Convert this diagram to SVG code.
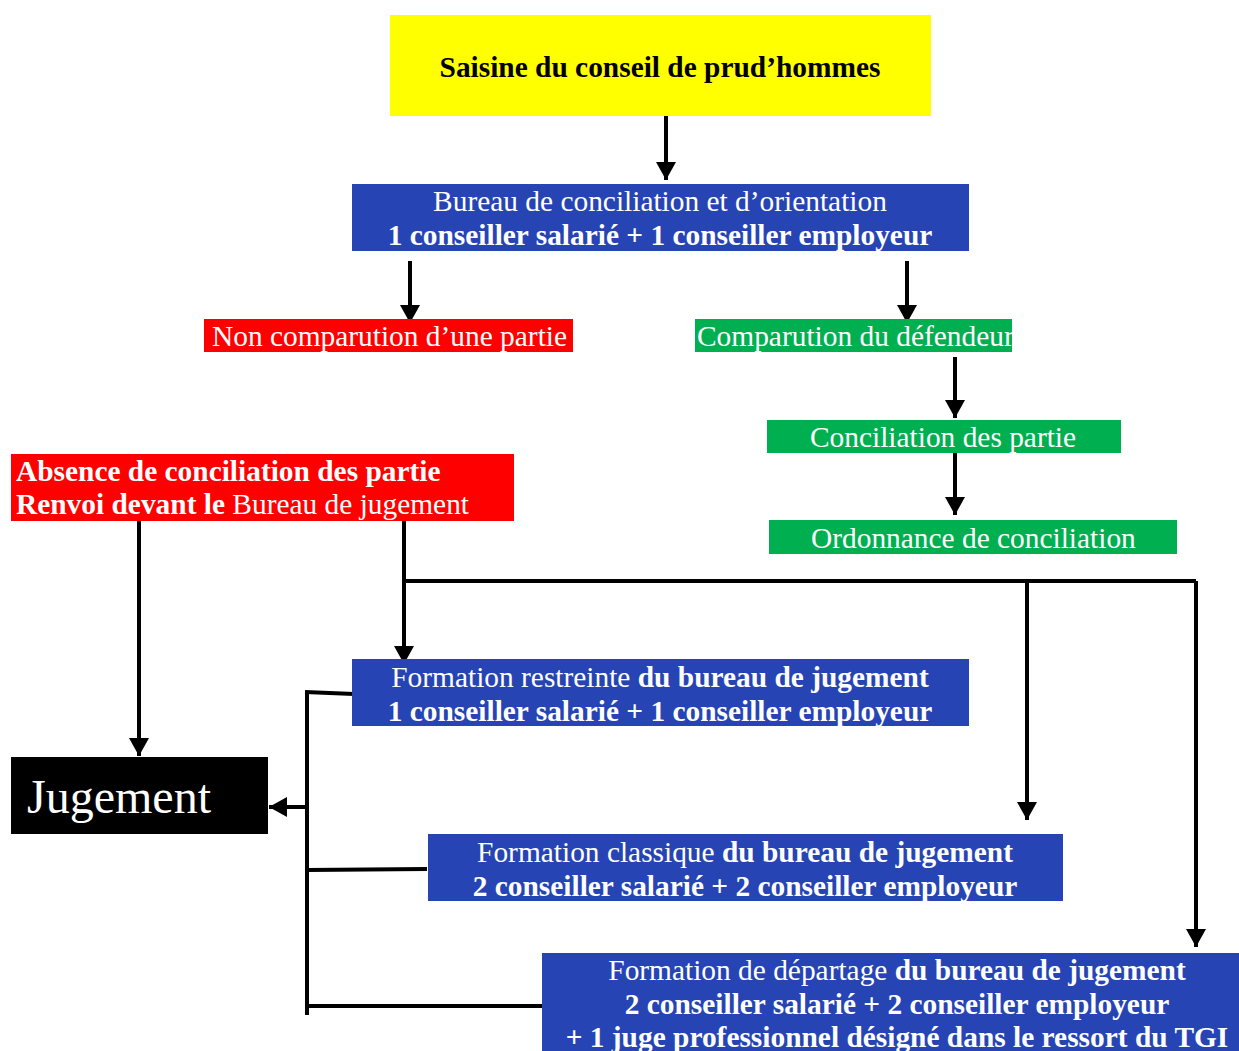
<svg xmlns="http://www.w3.org/2000/svg" width="1239" height="1051" viewBox="0 0 1239 1051">
<defs>
<marker id="ah" markerWidth="5" markerHeight="5" refX="4.5" refY="2.5" orient="auto" markerUnits="strokeWidth">
<path d="M0,0 L4.5,2.5 L0,5 Z" fill="#000"/>
</marker>
<style>
text{font-family:"Liberation Serif","Times New Roman",serif;}
.t{font-size:29.4px;fill:#fff;}
.c{text-anchor:middle;}
.b{font-weight:bold;}
.blue{fill:#2644b4;}
.red{fill:#ff0000;}
.green{fill:#00b050;}
.ln{stroke:#000;stroke-width:4;fill:none;}
.ar{stroke:#000;stroke-width:4;fill:none;marker-end:url(#ah);}
</style>
</defs>
<rect width="1239" height="1051" fill="#fff"/>
<g id="connectors">
<line class="ar" x1="666" y1="116" x2="666" y2="180"/>
<line class="ar" x1="410" y1="261" x2="410" y2="323"/>
<line class="ar" x1="907" y1="261" x2="907" y2="323"/>
<line class="ar" x1="955" y1="357" x2="955" y2="418"/>
<line class="ar" x1="955" y1="453" x2="955" y2="515"/>
<line class="ar" x1="139" y1="518" x2="139" y2="756"/>
<line class="ar" x1="404" y1="521" x2="404" y2="664"/>
<polyline class="ln" points="404,581 1196,581"/>
<line class="ar" x1="1027" y1="581" x2="1027" y2="820"/>
<line class="ar" x1="1196" y1="581" x2="1196" y2="947"/>
<line class="ln" x1="307" y1="691" x2="307" y2="1015"/>
<line class="ln" x1="305" y1="692" x2="354" y2="694"/>
<line class="ln" x1="307" y1="870" x2="427" y2="869"/>
<line class="ln" x1="307" y1="1006" x2="547" y2="1006"/>
<line class="ar" x1="307" y1="807" x2="269" y2="807"/>
</g>
<g id="saisine">
<rect x="390" y="15" width="541" height="101" fill="#ffff00"/>
<text class="c b" x="660" y="77" font-size="29.4" fill="#000">Saisine du conseil de prud’hommes</text>
</g>
<g id="bureau-conciliation">
<rect class="blue" x="352" y="184" width="617" height="67"/>
<text class="t c" x="660" y="211">Bureau de conciliation et d’orientation</text>
<text class="t c b" x="660" y="245">1 conseiller salarié + 1 conseiller employeur</text>
</g>
<g id="non-comparution">
<rect class="red" x="204" y="319" width="369" height="33"/>
<text class="t" x="212" y="346">Non comparution d’une partie</text>
</g>
<g id="comparution">
<rect class="green" x="695" y="319" width="317" height="33"/>
<text class="t" x="697" y="346">Comparution du défendeur</text>
</g>
<g id="conciliation">
<rect class="green" x="767" y="420" width="354" height="33"/>
<text class="t" x="810" y="447">Conciliation des partie</text>
</g>
<g id="ordonnance">
<rect class="green" x="769" y="520" width="408" height="34"/>
<text class="t" x="811" y="548">Ordonnance de conciliation</text>
</g>
<g id="absence">
<rect class="red" x="11" y="454" width="503" height="67"/>
<text class="t b" x="16" y="481">Absence de conciliation des partie</text>
<text class="t" x="16" y="514"><tspan class="b">Renvoi devant le </tspan>Bureau de jugement</text>
</g>
<g id="jugement">
<rect x="11" y="757" width="257" height="77" fill="#000"/>
<text x="27" y="813" font-size="48" fill="#fff">Jugement</text>
</g>
<g id="formation-restreinte">
<rect class="blue" x="352" y="659" width="617" height="67"/>
<text class="t c" x="660" y="687">Formation restreinte <tspan class="b">du bureau de jugement</tspan></text>
<text class="t c b" x="660" y="721">1 conseiller salarié + 1 conseiller employeur</text>
</g>
<g id="formation-classique">
<rect class="blue" x="428" y="834" width="635" height="67"/>
<text class="t c" x="745" y="862">Formation classique <tspan class="b">du bureau de jugement</tspan></text>
<text class="t c b" x="745" y="896">2 conseiller salarié + 2 conseiller employeur</text>
</g>
<g id="formation-departage">
<rect class="blue" x="542" y="953" width="697" height="98"/>
<text class="t c" x="897" y="980">Formation de départage <tspan class="b">du bureau de jugement</tspan></text>
<text class="t c b" x="897" y="1014">2 conseiller salarié + 2 conseiller employeur</text>
<text class="t c b" x="897" y="1047">+ 1 juge professionnel désigné dans le ressort du TGI</text>
</g>
</svg>
